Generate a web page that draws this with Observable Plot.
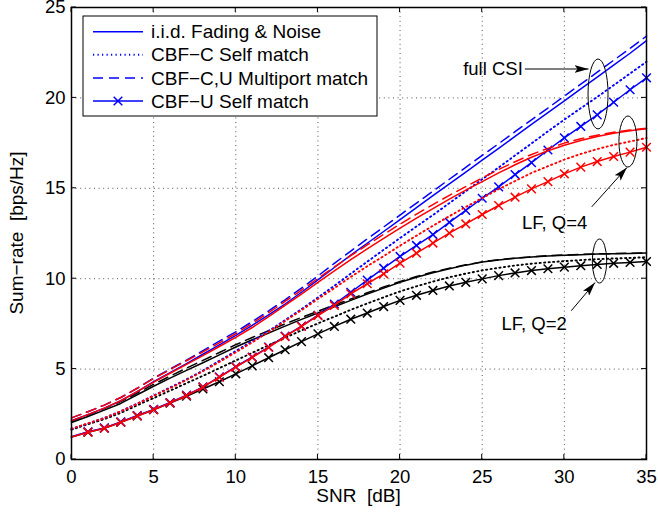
<!DOCTYPE html>
<html>
<head>
<meta charset="utf-8">
<script src="https://cdn.jsdelivr.net/npm/d3@7"></script>
<script src="https://cdn.jsdelivr.net/npm/@observablehq/plot@0.6"></script>
<style>
  html, body { margin: 0; padding: 0; background: #fff; }
  #chart { width: 658px; height: 518px; }
  #chart svg text { font-family: "Liberation Sans", Arial, Helvetica, sans-serif; }
</style>
</head>
<body>
<div id="chart"></div>
<script>
// SNR grid [dB]
const snr = [0, 1, 2, 3, 4, 5, 6, 7, 8, 9, 10, 11, 12, 13, 14, 15, 16, 17,
             18, 19, 20, 21, 22, 23, 24, 25, 26, 27, 28, 29, 30, 31, 32, 33, 34, 35];

// Sum-rate [bps/Hz], full CSI
const fullIid   = [2.15, 2.48, 2.84, 3.25, 3.75, 4.3, 4.8, 5.3, 5.82, 6.34, 6.86, 7.42, 8.0, 8.6, 9.25, 9.93, 10.62, 11.3, 11.96, 12.61, 13.27, 13.93, 14.59, 15.24, 15.9, 16.56, 17.21, 17.87, 18.53, 19.18, 19.84, 20.5, 21.15, 21.81, 22.47, 23.17];
const fullSelfC = [1.68, 1.99, 2.3, 2.67, 3.09, 3.54, 3.98, 4.43, 4.92, 5.46, 6.0, 6.55, 7.11, 7.71, 8.32, 8.96, 9.61, 10.28, 10.94, 11.6, 12.25, 12.89, 13.52, 14.18, 14.84, 15.5, 16.15, 16.82, 17.48, 18.15, 18.8, 19.43, 20.05, 20.7, 21.35, 22.0];
const fullMulti = [2.3, 2.64, 3.01, 3.43, 3.94, 4.5, 5.0, 5.5, 6.02, 6.55, 7.06, 7.63, 8.22, 8.83, 9.48, 10.15, 10.85, 11.53, 12.2, 12.86, 13.52, 14.18, 14.84, 15.5, 16.16, 16.82, 17.47, 18.13, 18.79, 19.44, 20.1, 20.76, 21.42, 22.08, 22.74, 23.42];
const fullSelfU = [1.26, 1.53, 1.75, 2.08, 2.43, 2.77, 3.15, 3.56, 4.02, 4.57, 5.13, 5.67, 6.22, 6.82, 7.38, 7.98, 8.6, 9.25, 9.92, 10.58, 11.23, 11.84, 12.44, 13.12, 13.78, 14.45, 15.08, 15.76, 16.42, 17.12, 17.79, 18.42, 19.06, 19.76, 20.45, 21.11];

// Sum-rate [bps/Hz], limited feedback Q=4
const q4Iid   = [2.15, 2.48, 2.84, 3.25, 3.75, 4.28, 4.77, 5.26, 5.75, 6.25, 6.75, 7.3, 7.9, 8.52, 9.15, 9.8, 10.43, 11.05, 11.65, 12.23, 12.8, 13.35, 13.88, 14.4, 14.9, 15.37, 15.85, 16.3, 16.72, 17.08, 17.38, 17.64, 17.86, 18.04, 18.18, 18.3];
const q4SelfC = [1.7, 2.0, 2.29, 2.66, 3.08, 3.52, 3.95, 4.4, 4.88, 5.4, 5.93, 6.48, 7.05, 7.66, 8.26, 8.88, 9.48, 10.1, 10.69, 11.25, 11.83, 12.38, 12.93, 13.46, 13.97, 14.46, 14.95, 15.4, 15.85, 16.22, 16.59, 16.9, 17.17, 17.4, 17.59, 17.78];
const q4Multi = [2.3, 2.64, 3.01, 3.43, 3.94, 4.48, 4.97, 5.46, 5.95, 6.45, 6.96, 7.52, 8.12, 8.74, 9.37, 10.02, 10.65, 11.27, 11.87, 12.45, 13.02, 13.57, 14.1, 14.61, 15.1, 15.57, 16.04, 16.47, 16.87, 17.21, 17.5, 17.74, 17.94, 18.1, 18.22, 18.32];
const q4SelfU = [1.24, 1.51, 1.73, 2.06, 2.41, 2.75, 3.13, 3.54, 4.0, 4.55, 5.11, 5.65, 6.2, 6.8, 7.36, 7.96, 8.52, 9.16, 9.72, 10.27, 10.86, 11.41, 11.97, 12.52, 13.03, 13.55, 14.05, 14.51, 14.97, 15.37, 15.8, 16.17, 16.48, 16.76, 17.0, 17.27];

// Sum-rate [bps/Hz], limited feedback Q=2
const q2Iid   = [2.05, 2.38, 2.73, 3.1, 3.58, 4.05, 4.5, 4.93, 5.35, 5.79, 6.22, 6.62, 7.0, 7.38, 7.75, 8.1, 8.45, 8.8, 9.15, 9.48, 9.8, 10.08, 10.33, 10.55, 10.75, 10.92, 11.04, 11.13, 11.2, 11.26, 11.3, 11.33, 11.36, 11.38, 11.4, 11.42];
const q2SelfC = [1.65, 1.95, 2.23, 2.58, 3.0, 3.4, 3.81, 4.22, 4.63, 5.05, 5.48, 5.9, 6.32, 6.73, 7.14, 7.53, 7.9, 8.28, 8.63, 8.97, 9.3, 9.58, 9.84, 10.08, 10.28, 10.46, 10.6, 10.73, 10.83, 10.91, 10.97, 11.03, 11.08, 11.12, 11.15, 11.19];
const q2Multi = [2.12, 2.46, 2.82, 3.2, 3.68, 4.16, 4.61, 5.05, 5.48, 5.92, 6.35, 6.75, 7.13, 7.5, 7.86, 8.2, 8.54, 8.88, 9.22, 9.54, 9.85, 10.12, 10.37, 10.58, 10.77, 10.93, 11.05, 11.14, 11.21, 11.27, 11.31, 11.34, 11.37, 11.39, 11.41, 11.43];
const q2SelfU = [1.24, 1.51, 1.73, 2.06, 2.41, 2.75, 3.12, 3.5, 3.9, 4.3, 4.74, 5.18, 5.63, 6.07, 6.52, 6.95, 7.36, 7.76, 8.1, 8.46, 8.8, 9.08, 9.35, 9.6, 9.8, 9.99, 10.17, 10.32, 10.45, 10.55, 10.64, 10.72, 10.79, 10.85, 10.9, 10.95];

// Axis ticks and legend entries
const xTicks = [0, 5, 10, 15, 20, 25, 30, 35];
const yTicks = [0, 5, 10, 15, 20, 25];
const schemes = ["i.i.d. Fading & Noise", "CBF\u2212C Self match", "CBF\u2212C,U Multiport match", "CBF\u2212U Self match"];
const groupNames = ["LF, Q=2", "full CSI", "LF, Q=4"];

(function () {
// Styling per group / scheme
const groupColor = {"full CSI": "#0000ff", "LF, Q=4": "#ff0000", "LF, Q=2": "#000000"};
const schemeStyle = {
  [schemes[0]]: {dash: null, marker: false, width: 1.5},
  [schemes[1]]: {dash: "1.2,3.3", marker: false, width: 1.9},
  [schemes[2]]: {dash: "10,6", marker: false, width: 1.5},
  [schemes[3]]: {dash: null, marker: true, width: 1.5}
};

const seriesValues = {
  "full CSI": [fullIid, fullSelfC, fullMulti, fullSelfU],
  "LF, Q=4": [q4Iid, q4SelfC, q4Multi, q4SelfU],
  "LF, Q=2": [q2Iid, q2SelfC, q2Multi, q2SelfU]
};

// Long table built from the arrays above
const rows = [];
for (const g of groupNames) {
  seriesValues[g].forEach((vals, k) => {
    vals.forEach((v, i) => rows.push({group: g, scheme: schemes[k], snr: snr[i], rate: v}));
  });
}

const marks = [
  Plot.ruleX(xTicks, {stroke: "#555", strokeWidth: 1, strokeDasharray: "1,3.6"}),
  Plot.ruleY(yTicks, {stroke: "#555", strokeWidth: 1, strokeDasharray: "1,3.6"})
];
for (const g of groupNames) {
  for (const s of schemes) {
    const data = rows.filter(d => d.group === g && d.scheme === s);
    const st = schemeStyle[s];
    marks.push(Plot.line(data, {x: "snr", y: "rate", stroke: groupColor[g], strokeWidth: st.width,
      strokeDasharray: st.dash || undefined}));
    if (st.marker) {
      marks.push(Plot.dot(data.filter(d => d.snr > 0), {x: "snr", y: "rate", symbol: "times", r: 4,
        stroke: groupColor[g], strokeWidth: st.width}));
    }
  }
}
marks.push(Plot.frame({stroke: "#000", strokeWidth: 1.5}));

const chart = Plot.plot({
  width: 658, height: 518,
  marginLeft: 71, marginRight: 12, marginTop: 7, marginBottom: 59,
  style: {fontSize: "18.5px", fontFamily: "Liberation Sans, Arial, sans-serif", color: "#000", background: "#fff"},
  x: {domain: [0, 35], ticks: xTicks, tickSize: 0, tickPadding: 10, label: null, tickFormat: d => String(d)},
  y: {domain: [0, 25], ticks: yTicks, tickSize: 0, tickPadding: 6, label: null, tickFormat: d => String(d)},
  marks
});
document.getElementById("chart").appendChild(chart);

// Decorations placed through the plot's own scales
const svg = d3.select(chart);
const sx = chart.scale("x"), sy = chart.scale("y");
const X = v => sx.apply(v), Y = v => sy.apply(v);
const xLeft = X(0), xRight = X(35), yBottom = Y(0), yTop = Y(25);
const fontFam = "Liberation Sans, Arial, sans-serif";

// inward ticks on all four sides
const tickLen = 5;
const tg = svg.append("g").attr("stroke", "#000").attr("stroke-width", 1);
for (const t of xTicks) {
  tg.append("line").attr("x1", X(t)).attr("x2", X(t)).attr("y1", yBottom).attr("y2", yBottom - tickLen);
  tg.append("line").attr("x1", X(t)).attr("x2", X(t)).attr("y1", yTop).attr("y2", yTop + tickLen);
}
for (const t of yTicks) {
  tg.append("line").attr("y1", Y(t)).attr("y2", Y(t)).attr("x1", xLeft).attr("x2", xLeft + tickLen);
  tg.append("line").attr("y1", Y(t)).attr("y2", Y(t)).attr("x1", xRight).attr("x2", xRight - tickLen);
}

// axis titles
svg.append("text").attr("x", (xLeft + xRight) / 2).attr("y", yBottom + 43)
  .attr("text-anchor", "middle").attr("font-size", 19).attr("font-family", fontFam)
  .style("white-space", "pre").text("SNR  [dB]");
svg.append("text").attr("transform", `translate(${xLeft - 48},${(yTop + yBottom) / 2}) rotate(-90)`)
  .attr("text-anchor", "middle").attr("font-size", 19).attr("font-family", fontFam)
  .style("white-space", "pre").text("Sum\u2212rate  [bps/Hz]");

// group annotations: ellipses, arrows and labels (positions in data units)
const defs = svg.append("defs");
defs.append("marker").attr("id", "arrowhead").attr("viewBox", "0 0 14 8")
  .attr("refX", 14).attr("refY", 4).attr("markerWidth", 14).attr("markerHeight", 8)
  .attr("markerUnits", "userSpaceOnUse").attr("orient", "auto")
  .append("path").attr("d", "M0,0L14,4L0,8L3,4Z").attr("fill", "#000");

const callouts = [
  {label: "full CSI", at: [27.5, 21.57], anchor: "end", ring: [32.08, 20.19, 10, 35], arrow: [[27.63, 21.57], [31.5, 21.57]]},
  {label: "LF, Q=4", at: [27.45, 13.1], anchor: "start", ring: [33.9, 17.56, 9, 25.5], arrow: [[31.7, 13.95], [33.84, 16.12]]},
  {label: "LF, Q=2", at: [26.2, 7.5], anchor: "start", ring: [32.17, 10.95, 7.2, 22], arrow: [[30.45, 8.2], [31.9, 9.76]]}
];
const ag = svg.append("g");
for (const c of callouts) {
  ag.append("ellipse").attr("cx", X(c.ring[0])).attr("cy", Y(c.ring[1]))
    .attr("rx", c.ring[2]).attr("ry", c.ring[3]).attr("fill", "none").attr("stroke", "#000").attr("stroke-width", 1);
  ag.append("line").attr("x1", X(c.arrow[0][0])).attr("y1", Y(c.arrow[0][1]))
    .attr("x2", X(c.arrow[1][0])).attr("y2", Y(c.arrow[1][1]))
    .attr("stroke", "#000").attr("stroke-width", 1).attr("marker-end", "url(#arrowhead)");
  ag.append("text").attr("x", X(c.at[0])).attr("y", Y(c.at[1])).attr("dy", "0.35em")
    .attr("text-anchor", c.anchor).attr("font-size", 18.5).attr("font-family", fontFam).text(c.label);
}

// legend box (blue samples, one row per scheme)
const lgX = xLeft + 12, lgY = yTop + 9, lgW = 294, lgH = 100, rowH = 23.1;
const lg = svg.append("g");
lg.append("rect").attr("x", lgX).attr("y", lgY).attr("width", lgW).attr("height", lgH)
  .attr("fill", "#fff").attr("stroke", "#000").attr("stroke-width", 1);
schemes.forEach((s, i) => {
  const cy = lgY + 15.7 + i * rowH;
  const st = schemeStyle[s];
  lg.append("line").attr("x1", lgX + 10).attr("x2", lgX + 60).attr("y1", cy).attr("y2", cy)
    .attr("stroke", groupColor["full CSI"]).attr("stroke-width", st.width)
    .attr("stroke-dasharray", st.dash);
  if (st.marker) {
    lg.append("path").attr("d", d3.symbol(d3.symbolTimes, 50)())
      .attr("transform", `translate(${lgX + 35},${cy})`)
      .attr("fill", "none").attr("stroke", groupColor["full CSI"]).attr("stroke-width", st.width);
  }
  lg.append("text").attr("x", lgX + 68).attr("y", cy).attr("dy", "0.35em")
    .attr("text-anchor", "start")
    .attr("font-size", 19).attr("font-family", fontFam).text(s);
});
})();
</script>
</body>
</html>
